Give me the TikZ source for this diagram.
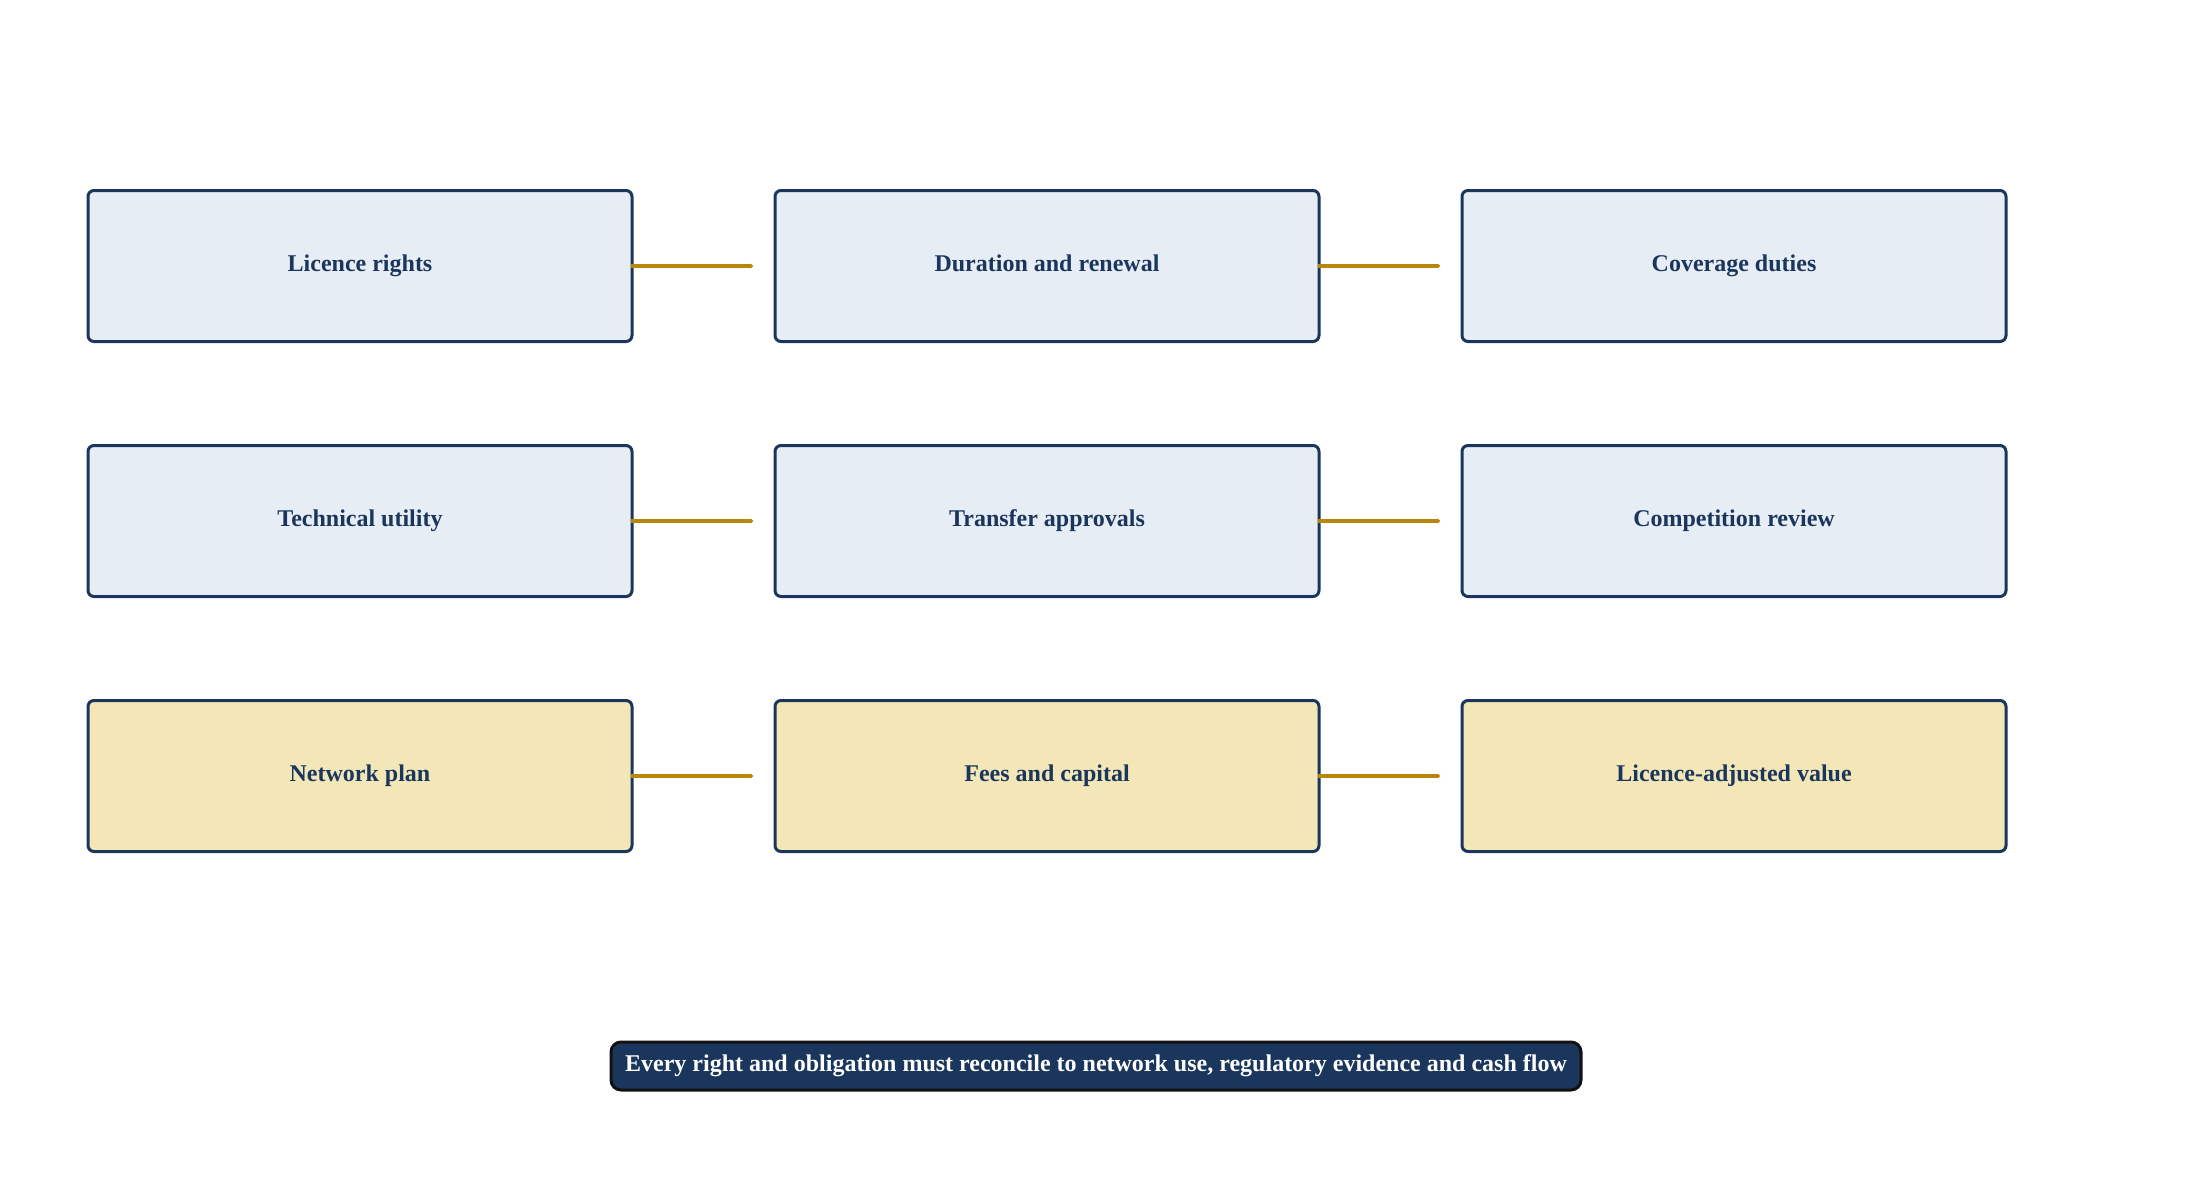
\documentclass[tikz,border=0pt]{standalone}
\usepackage{fontspec}
\setmainfont{Liberation Serif}
\usetikzlibrary{arrows.meta}
\definecolor{navy}{HTML}{1B365D}
\definecolor{boxblue}{HTML}{E7EDF5}
\definecolor{boxgold}{HTML}{F3E7B8}
\definecolor{linkgold}{HTML}{B8860B}
\definecolor{bannerborder}{HTML}{111111}
\tikzset{
  card/.style={draw=navy, line width=1.5pt, rounded corners=3pt, fill=boxblue,
    minimum width=272pt, minimum height=75.5pt, inner sep=0pt,
    text height=8pt, text depth=3pt,
    text=navy, font=\fontsize{12}{14}\selectfont\bfseries},
  goldcard/.style={card, fill=boxgold},
  link/.style={draw=linkgold, line width=1.6pt, shorten <=-1.5pt, shorten >=10pt,
    -{Latex[length=1.5pt,width=2.8pt]}},
  banner/.style={draw=bannerborder, line width=1.5pt, rounded corners=5pt, fill=navy,
    minimum width=485pt, minimum height=24pt, inner sep=0pt,
    text height=8pt, text depth=3pt,
    text=white, font=\fontsize{12}{14}\selectfont\bfseries}
}
\begin{document}
\begin{tikzpicture}[x=0.5pt, y=-0.5pt]
\useasboundingbox (0,0) rectangle (2191,1179);
\node[card] (a1) at (360,266) {Licence rights};
\node[card] (a2) at (1047,266) {Duration and renewal};
\node[card] (a3) at (1734,266) {Coverage duties};
\node[card] (b1) at (360,521) {Technical utility};
\node[card] (b2) at (1047,521) {Transfer approvals};
\node[card] (b3) at (1734,521) {Competition review};
\node[goldcard] (c1) at (360,776) {Network plan};
\node[goldcard] (c2) at (1047,776) {Fees and capital};
\node[goldcard] (c3) at (1734,776) {Licence-adjusted value};
\draw[link] (a1.east) -- (a2.west);
\draw[link] (a2.east) -- (a3.west);
\draw[link] (b1.east) -- (b2.west);
\draw[link] (b2.east) -- (b3.west);
\draw[link] (c1.east) -- (c2.west);
\draw[link] (c2.east) -- (c3.west);
\node[banner] (note) at (1096,1066) {Every right and obligation must reconcile to network use, regulatory evidence and cash flow};
\end{tikzpicture}
\end{document}
